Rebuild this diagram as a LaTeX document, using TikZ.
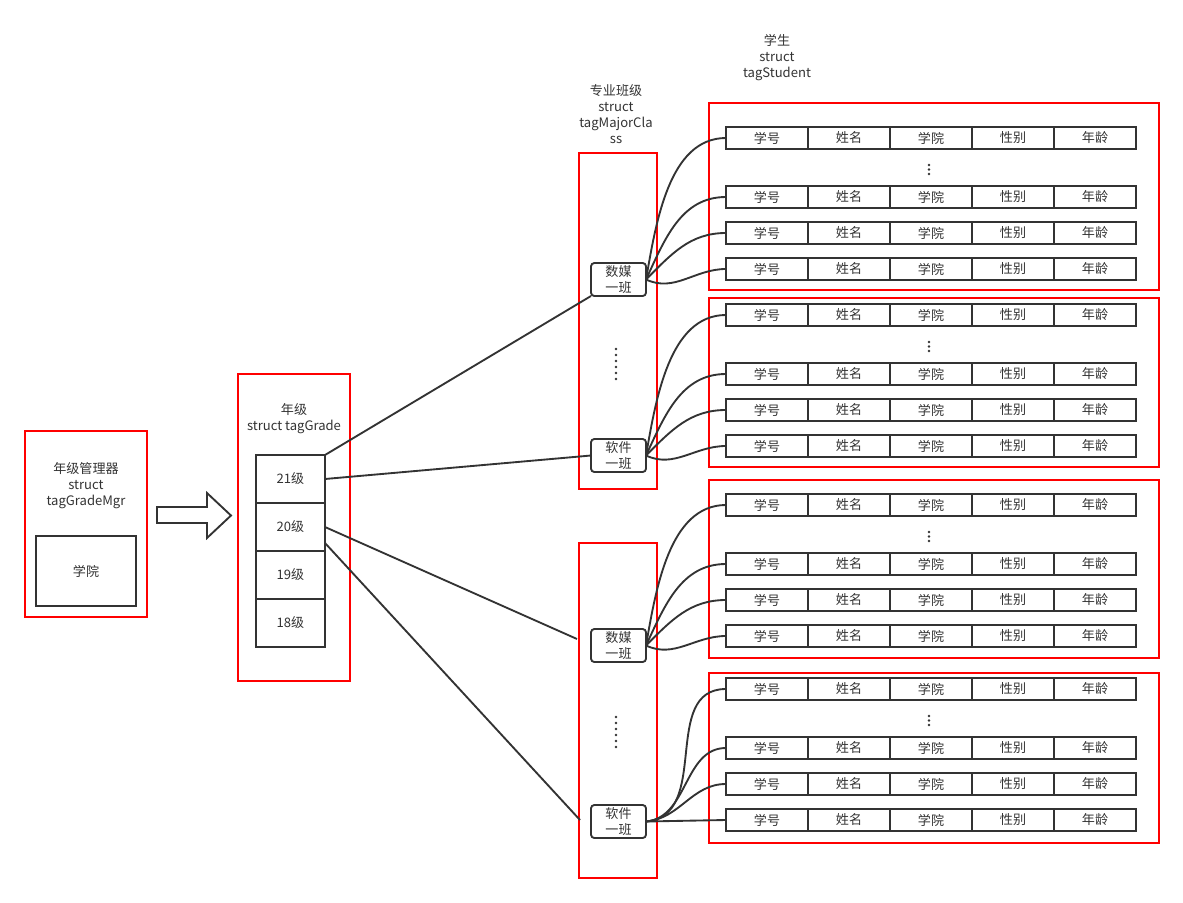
\documentclass[tikz,border=0pt]{standalone}
\usepackage{fontspec}
\setmainfont{Noto Sans CJK SC}
\usetikzlibrary{positioning}
\definecolor{linegray}{HTML}{333333}
\definecolor{boxred}{HTML}{FF0000}

\begin{document}
\begin{tikzpicture}[
  x=0.75pt, y=-0.75pt,
  font=\fontsize{9.8}{12}\selectfont,
  text=linegray,
  redbox/.style={draw=boxred, line width=0.9pt},
  cellbox/.style={draw=linegray, line width=1.4pt, minimum width=61.5pt, minimum height=16.5pt, inner sep=0pt, outer sep=0pt},
  gradebox/.style={draw=linegray, line width=1.4pt, minimum width=51.75pt, minimum height=36pt, inner sep=0pt, outer sep=0pt},
  classbox/.style={draw=linegray, line width=1.4pt, rounded corners=2.5pt, minimum width=41.25pt, minimum height=24.75pt, inner sep=0pt, outer sep=0pt, align=center, font=\fontsize{9.8}{12.5}\selectfont},
  link/.style={draw=linegray, line width=1.4pt}
]
\useasboundingbox (0,0) rectangle (1183,903);

% grade manager
\draw[redbox] (25,431) rectangle (147,617);
\node[align=center] (mgrlabel) at (86,486) {年级管理器\\struct\\tagGradeMgr};
\node[draw=linegray, line width=1.4pt, minimum width=75pt, minimum height=52.5pt] (college) at (86,571) {学院};

% hollow arrow
\draw[draw=linegray, line width=1.4pt, fill=white] (157,507) -- (207,507) -- (207,493) -- (231,515.5) -- (207,538) -- (207,523) -- (157,523) -- cycle;

% grades
\draw[redbox] (238,374) rectangle (350,681);
\node[align=center] (gradelabel) at (294,419) {年级\\struct tagGrade};
\node[gradebox] (g21) at (290.5,479) {21级};
\node[gradebox, below=0pt of g21] (g20) {20级};
\node[gradebox, below=0pt of g20] (g19) {19级};
\node[gradebox, below=0pt of g19] (g18) {18级};

% major classes
\node[align=center] (majorlabel) at (616,114) {专业班级\\struct\\tagMajorCla\\ss};
\draw[redbox] (579,153) rectangle (657,489);
\draw[redbox] (579,543) rectangle (657,878);
\node[classbox] (m1a) at (618.5,279.5) {数媒\\一班};
\node[classbox] (m1b) at (618.5,455.5) {软件\\一班};
\node[classbox] (m2a) at (618.5,645.5) {数媒\\一班};
\node[classbox] (m2b) at (618.5,821.5) {软件\\一班};
\foreach \y in {349,717} {
  \foreach \k in {0,...,5}
    \fill[linegray] (616,\y+6*\k) circle (1.1pt);
}

% students
\node[align=center] (stulabel) at (777,58) {学生\\struct\\tagStudent};
\draw[redbox] (709,103) rectangle (1159,290);
\draw[redbox] (709,298) rectangle (1159,467);
\draw[redbox] (709,480) rectangle (1159,658);
\draw[redbox] (709,673) rectangle (1159,843);
\foreach \b/\ya/\yb/\yc/\yd in {1/138/197/233/269, 2/315/374/410/446, 3/505/564/600/636, 4/689/748/784/820} {
  \foreach \r/\y in {a/\ya, b/\yb, c/\yc, d/\yd} {
    \node[cellbox] (s\b\r1) at (767,\y) {学号};
    \node[cellbox, right=0pt of s\b\r1] (s\b\r2) {姓名};
    \node[cellbox, right=0pt of s\b\r2] (s\b\r3) {学院};
    \node[cellbox, right=0pt of s\b\r3] (s\b\r4) {性别};
    \node[cellbox, right=0pt of s\b\r4] (s\b\r5) {年龄};
  }
  \foreach \k in {0,1,2}
    \fill[linegray] (929,\ya+27+4.5*\k) circle (1pt);
}

% grade to class
\coordinate (p1) at (577,639);
\coordinate (p2) at (580,820);
\draw[link] (g21.north east) -- (m1a.south west);
\draw[link] (g21.east) -- (m1b.west);
\draw[link] (g20.east) -- (p1);
\draw[link] ([yshift=-12pt]g20.east) -- (p2);

% class to students
\foreach \m/\b in {m1a/1, m1b/2, m2a/3} {
  \draw[link] (\m.east) to[out=80, in=180, looseness=0.9] (s\b a1.west);
  \draw[link] (\m.east) to[out=65, in=180] (s\b b1.west);
  \draw[link] (\m.east) to[out=45, in=180] (s\b c1.west);
  \draw[link] (\m.east) to[out=-25, in=180] (s\b d1.west);
}
\draw[link] (m2b.east) to[out=5, in=180, looseness=1.1] (s4a1.west);
\draw[link] (m2b.east) to[out=5, in=180] (s4b1.west);
\draw[link] (m2b.east) to[out=5, in=180] (s4c1.west);
\draw[link] (m2b.east) -- (s4d1.west);
\end{tikzpicture}
\end{document}
